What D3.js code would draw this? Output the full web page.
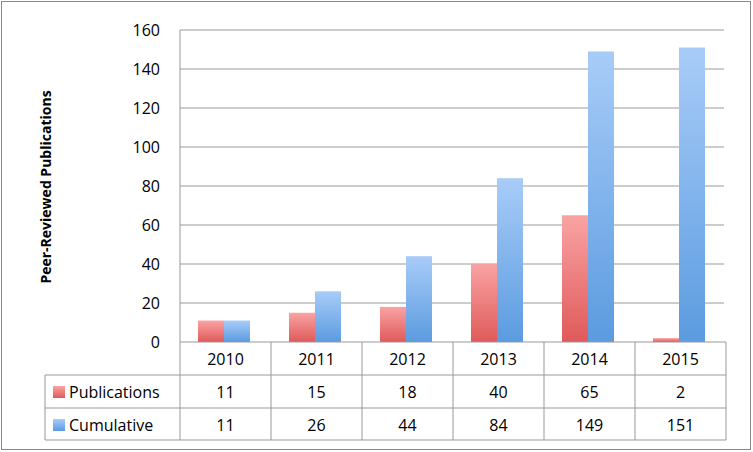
<!DOCTYPE html><html><head><meta charset="utf-8"><script src="https://cdn.jsdelivr.net/npm/d3@7"></script>
<style>body{margin:0;background:#fff}</style></head><body><svg id="c" width="753" height="452"></svg>
<script>
const years=["2010","2011","2012","2013","2014","2015"];
const publications=[11,15,18,40,65,2];
const cumulative=[11,26,44,84,149,151];
const yTicks=[0,20,40,60,80,100,120,140,160];
const svg=d3.select("#c");const F="Open Sans, Liberation Sans, sans-serif";
const defs=svg.append("defs");
function grad(id,top,bot){const g=defs.append("linearGradient").attr("id",id).attr("x1",0).attr("x2",0).attr("y1",0).attr("y2",1);
g.append("stop").attr("offset","0%").attr("stop-color",top);g.append("stop").attr("offset","100%").attr("stop-color",bot);}
grad("gr","#f9a3a3","#e05a5a");grad("gb","#a8ccf8","#5b9be0");
svg.append("rect").attr("x",1.5).attr("y",1.5).attr("width",749).attr("height",448).attr("fill","#fff").attr("stroke","#888");
const L=180,R=726,T=30,B=342;
const x=d3.scaleBand().domain(years).range([L,R]);
const y=d3.scaleLinear().domain([0,160]).range([B,T]);
yTicks.forEach(t=>{ if(t>0) svg.append("line").attr("x1",L).attr("x2",R-2).attr("y1",y(t)).attr("y2",y(t)).attr("stroke","#999");
svg.append("text").attr("x",L-20).attr("y",y(t)+6).attr("text-anchor","end").attr("font-family",F).attr("font-size",16).text(t);});
const bw=26,off=18;
svg.selectAll(".p").data(years).enter().append("rect").attr("x",d=>x(d)+off).attr("width",bw).attr("y",(d,i)=>y(publications[i])).attr("height",(d,i)=>B-y(publications[i])).attr("fill","url(#gr)");
svg.selectAll(".q").data(years).enter().append("rect").attr("x",d=>x(d)+off+bw).attr("width",bw).attr("y",(d,i)=>y(cumulative[i])).attr("height",(d,i)=>B-y(cumulative[i])).attr("fill","url(#gb)");
// table
const rows=[342,375,408,440];const TL=45;
const g=svg.append("g").attr("stroke","#999").attr("fill","none");
g.append("line").attr("x1",L).attr("x2",R).attr("y1",B).attr("y2",B);
g.append("line").attr("x1",TL).attr("x2",R).attr("y1",rows[1]).attr("y2",rows[1]);
g.append("line").attr("x1",TL).attr("x2",R).attr("y1",rows[2]).attr("y2",rows[2]);
g.append("line").attr("x1",TL).attr("x2",R).attr("y1",rows[3]).attr("y2",rows[3]);
g.append("line").attr("x1",TL).attr("x2",TL).attr("y1",rows[1]).attr("y2",rows[3]);
g.append("line").attr("x1",L).attr("x2",L).attr("y1",T).attr("y2",rows[3]);
years.forEach(d=>g.append("line").attr("x1",x(d)+x.bandwidth()).attr("x2",x(d)+x.bandwidth()).attr("y1",B).attr("y2",rows[3]));
const txt=(tx,ty,s,a)=>svg.append("text").attr("x",tx).attr("y",ty).attr("text-anchor",a||"middle").attr("font-family",F).attr("font-size",16).text(s);
years.forEach((d,i)=>{const cx=x(d)+x.bandwidth()/2;txt(cx,rows[0]+23,d);txt(cx,rows[1]+23,publications[i]);txt(cx,rows[2]+23,cumulative[i]);});
svg.append("rect").attr("x",53).attr("y",rows[1]+11).attr("width",12).attr("height",12).attr("fill","url(#gr)");
svg.append("rect").attr("x",53).attr("y",rows[2]+11).attr("width",12).attr("height",12).attr("fill","url(#gb)");
txt(69,rows[1]+23,"Publications","start");txt(69,rows[2]+23,"Cumulative","start");
svg.append("text").attr("transform","translate(51,187) rotate(-90)").attr("text-anchor","middle").attr("font-family",F).attr("font-size",14).attr("font-weight","bold").text("Peer-Reviewed Publications");
</script></body></html>
